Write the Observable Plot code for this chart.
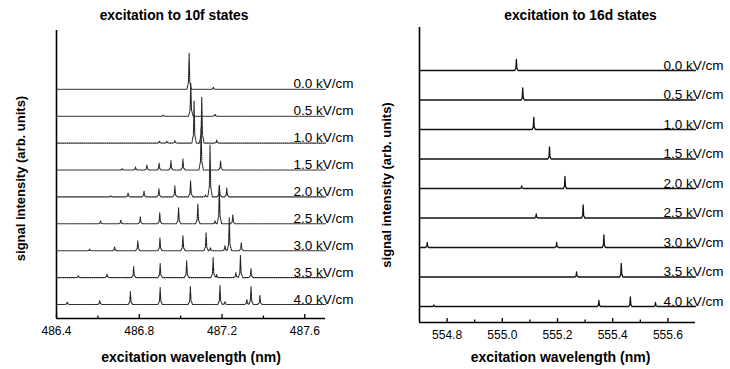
<!DOCTYPE html>
<html>
<head>
<meta charset="utf-8">
<script src="https://cdn.jsdelivr.net/npm/d3@7"></script>
<script src="https://cdn.jsdelivr.net/npm/@observablehq/plot@0.6"></script>
<style>
  body { margin: 0; background: #fff; }
  #chart { position: relative; width: 730px; height: 369px; font-family: "Liberation Sans", Arial, sans-serif; }
  #chart svg { position: absolute; top: 0; overflow: visible; }
</style>
</head>
<body>
<div id="chart"></div>
<script>
// Applied field for each stacked trace (top to bottom)
const fields = ["0.0", "0.5", "1.0", "1.5", "2.0", "2.5", "3.0", "3.5", "4.0"];

// Excitation to 10f states: [wavelength (nm), peak height (arb. units)] per field
const peaks10f = [
  [[487.041, 36], [487.158, 2]],
  [[486.916, 1], [487.049, 33], [487.166, 2]],
  [[486.898, 2], [486.933, 2], [486.972, 2.5], [487.065, 42], [487.102, 46], [487.174, 3]],
  [[486.718, 1.5], [486.782, 3], [486.837, 5], [486.896, 7], [486.953, 9.5], [487.011, 11], [487.099, 42], [487.193, 9]],
  [[486.662, 1], [486.746, 4], [486.823, 6], [486.895, 8], [486.972, 11], [487.048, 16], [487.120, 2], [487.142, 52], [487.187, 12], [487.223, 9]],
  [[486.613, 3], [486.711, 4], [486.805, 7], [486.899, 11], [486.990, 16], [487.083, 20], [487.166, 3], [487.187, 38], [487.252, 9]],
  [[486.560, 1.5], [486.681, 4], [486.793, 10], [486.900, 13], [487.011, 15], [487.123, 18], [487.144, 3], [487.214, 5], [487.235, 33], [487.293, 8]],
  [[486.505, 2], [486.644, 3.5], [486.773, 11], [486.901, 14], [487.029, 17], [487.157, 20], [487.174, 3], [487.267, 5], [487.289, 22], [487.340, 9]],
  [[486.452, 2.5], [486.609, 4], [486.757, 13], [486.901, 17], [487.047, 18], [487.190, 19], [487.214, 3], [487.320, 5], [487.340, 18], [487.383, 9]]
];

// Excitation to 16d states: [wavelength (nm), peak height (arb. units)] per field
const peaks16d = [
  [[555.051, 11]],
  [[555.074, 12]],
  [[555.114, 12]],
  [[555.171, 12]],
  [[555.070, 2.5], [555.227, 12]],
  [[555.123, 4], [555.293, 13]],
  [[554.728, 5], [555.197, 5], [555.368, 12.5]],
  [[555.269, 5], [555.431, 13.5]],
  [[554.752, 1.5], [555.350, 6], [555.464, 9.5], [555.555, 4]]
];

// Axis ranges and ticks
const xDomain10f = [486.4, 487.7];
const xTicks10f = [486.4, 486.8, 487.2, 487.6];
const xMinor10f = [486.6, 487.0, 487.4];
const xDomain16d = [554.7, 555.7];
const xTicks16d = [554.8, 555.0, 555.2, 555.4, 555.6];
const xMinor16d = [554.9, 555.1, 555.3, 555.5];

// Piecewise-linear line profile of a single peak, in units of its half-width
const profile = [[-1, 0], [-0.3, 0.2], [0, 1], [0.3, 0.2], [1, 0]];

function profileAt(u) {
  if (u <= -1 || u >= 1) return 0;
  for (let i = 1; i < profile.length; i++) {
    const [u1, v1] = profile[i - 1], [u2, v2] = profile[i];
    if (u <= u2) return v1 + (v2 - v1) * (u - u1) / (u2 - u1);
  }
  return 0;
}

// Builds one trace: flat baseline at `base` with the listed peaks on top
function trace(peaks, base, [x0, x1], halfWidth, field) {
  const xs = new Set([x0, x1]);
  for (const [p] of peaks) for (const [u] of profile) {
    const x = p + u * halfWidth;
    if (x > x0 && x < x1) xs.add(x);
  }
  return [...xs].sort((a, b) => a - b).map(x => ({
    field,
    x,
    y: base + d3.sum(peaks, ([p, h]) => h * profileAt((x - p) / halfWidth))
  }));
}

function panel({title, peaks, xDomain, xTicks, xMinor, yTop, floor, step, halfWidth,
                margins, dashed, titleDx, titleDy, yLabelDx, yLabelDy, xLabelDx, xLabelDy}) {
  const n = fields.length;
  const baseOf = i => floor + (n - 1 - i) * step;
  const frameHeight = 369 - margins.marginTop - margins.marginBottom;
  const data = peaks.flatMap((pk, i) => trace(pk, baseOf(i), xDomain, halfWidth, fields[i]));
  const labels = fields.map((f, i) => ({text: f + " kV/cm", y: baseOf(i)}));
  return Plot.plot({
    width: 365,
    height: 369,
    ...margins,
    x: {domain: xDomain},
    y: {domain: [0, yTop], axis: null},
    style: {fontFamily: "'Liberation Sans', Arial, sans-serif", background: "transparent", overflow: "visible"},
    marks: [
      Plot.line(data, {
        x: "x", y: "y", z: "field",
        stroke: dashed ? "#222" : "#111", strokeWidth: dashed ? 1.1 : 1.3,
        strokeDasharray: dashed ? "1.1,1" : null
      }),
      Plot.ruleX([xDomain[0]], {stroke: "#000", strokeWidth: 1.6}),
      Plot.ruleY([0], {stroke: "#000", strokeWidth: 1.6}),
      // inward-pointing tick marks on the wavelength axis
      Plot.tickX(xTicks, {x: d => d, insetTop: frameHeight - 4, stroke: "#000", strokeWidth: 1.3}),
      Plot.tickX(xMinor, {x: d => d, insetTop: frameHeight - 2.5, stroke: "#000", strokeWidth: 1.3}),
      Plot.axisX(xTicks, {
        label: null, tickSize: 0, tickPadding: 8, tickFormat: d => d.toFixed(1),
        fontSize: 12, letterSpacing: "-0.4px", fill: "#000"
      }),
      Plot.text(labels, {
        y: "y", text: "text", frameAnchor: "right", dx: 28, dy: -1,
        textAnchor: "end", lineAnchor: "bottom",
        fontSize: 13.5, letterSpacing: "-0.3px", fill: "#000"
      }),
      Plot.text([title], {
        frameAnchor: "top", dx: titleDx, dy: titleDy, lineAnchor: "middle",
        fontSize: 13.8, fontWeight: "bold", letterSpacing: "-0.4px", fill: "#000"
      }),
      Plot.text(["signal intensity (arb. units)"], {
        frameAnchor: "left", textAnchor: "middle", rotate: -90, dx: yLabelDx, dy: yLabelDy, lineAnchor: "middle",
        fontSize: 13, fontWeight: "bold", letterSpacing: "-0.5px", fill: "#000"
      }),
      Plot.text(["excitation wavelength (nm)"], {
        frameAnchor: "bottom", dx: xLabelDx, dy: xLabelDy, lineAnchor: "middle",
        fontSize: 14, fontWeight: "bold", letterSpacing: "-0.6px", fill: "#000"
      })
    ]
  });
}

const left = panel({
  title: "excitation to 10f states",
  peaks: peaks10f, xDomain: xDomain10f, xTicks: xTicks10f, xMinor: xMinor10f,
  yTop: 288, floor: 14, step: 26.9, halfWidth: 0.011,
  margins: {marginLeft: 56, marginRight: 40, marginTop: 30, marginBottom: 51},
  dashed: true,
  titleDx: -17, titleDy: -15, yLabelDx: -36, yLabelDy: 4, xLabelDx: 0, xLabelDy: 39
});

const right = panel({
  title: "excitation to 16d states",
  peaks: peaks16d, xDomain: xDomain16d, xTicks: xTicks16d, xMinor: xMinor16d,
  yTop: 295, floor: 16, step: 29.5, halfWidth: 0.006,
  margins: {marginLeft: 54, marginRight: 35, marginTop: 27, marginBottom: 47},
  dashed: false,
  titleDx: 23, titleDy: -12, yLabelDx: -33, yLabelDy: 10, xLabelDx: 3, xLabelDy: 35
});

left.style.left = "0px";
right.style.left = "365px";
const chart = document.getElementById("chart");
chart.append(left, right);
</script>
</body>
</html>
